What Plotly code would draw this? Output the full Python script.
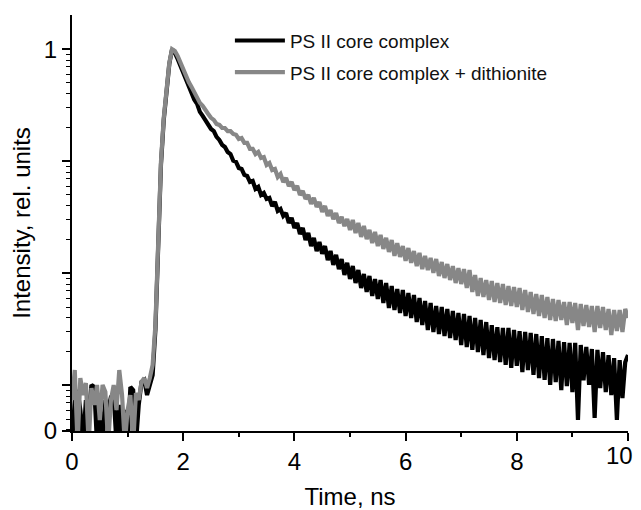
import math
import plotly.graph_objects as go

# Time channels, ns
time_ns = [
    0.00, 0.05, 0.10, 0.15, 0.20, 0.25, 0.30, 0.35, 0.40, 0.45,
    0.50, 0.55, 0.60, 0.65, 0.70, 0.75, 0.80, 0.85, 0.90, 0.95,
    1.00, 1.05, 1.10, 1.15, 1.20, 1.25, 1.30, 1.35, 1.40, 1.45,
    1.50, 1.55, 1.60, 1.65, 1.70, 1.75, 1.80, 1.85, 1.90, 1.95,
    2.00, 2.05, 2.10, 2.15, 2.20, 2.25, 2.30, 2.35, 2.40, 2.45,
    2.50, 2.55, 2.60, 2.65, 2.70, 2.75, 2.80, 2.85, 2.90, 2.95,
    3.00, 3.05, 3.10, 3.15, 3.20, 3.25, 3.30, 3.35, 3.40, 3.45,
    3.50, 3.55, 3.60, 3.65, 3.70, 3.75, 3.80, 3.85, 3.90, 3.95,
    4.00, 4.05, 4.10, 4.15, 4.20, 4.25, 4.30, 4.35, 4.40, 4.45,
    4.50, 4.55, 4.60, 4.65, 4.70, 4.75, 4.80, 4.85, 4.90, 4.95,
    5.00, 5.05, 5.10, 5.15, 5.20, 5.25, 5.30, 5.35, 5.40, 5.45,
    5.50, 5.55, 5.60, 5.65, 5.70, 5.75, 5.80, 5.85, 5.90, 5.95,
    6.00, 6.05, 6.10, 6.15, 6.20, 6.25, 6.30, 6.35, 6.40, 6.45,
    6.50, 6.55, 6.60, 6.65, 6.70, 6.75, 6.80, 6.85, 6.90, 6.95,
    7.00, 7.05, 7.10, 7.15, 7.20, 7.25, 7.30, 7.35, 7.40, 7.45,
    7.50, 7.55, 7.60, 7.65, 7.70, 7.75, 7.80, 7.85, 7.90, 7.95,
    8.00, 8.05, 8.10, 8.15, 8.20, 8.25, 8.30, 8.35, 8.40, 8.45,
    8.50, 8.55, 8.60, 8.65, 8.70, 8.75, 8.80, 8.85, 8.90, 8.95,
    9.00, 9.05, 9.10, 9.15, 9.20, 9.25, 9.30, 9.35, 9.40, 9.45,
    9.50, 9.55, 9.60, 9.65, 9.70, 9.75, 9.80, 9.85, 9.90, 9.95,
    10.00,
]

# PS II core complex (black), rel. units
ps2_core = [
    0.0003, 0.000739, 0.000908, 0.000602, 0.0003, 0.000739, 0.000543, 0.001006, 0.000966, 0.0003,
    0.000667, 0.0003, 0.000739, 0.000602, 0.000786, 0.000819, 0.0003, 0.000667, 0.0003, 0.000602,
    0.0003, 0.000966, 0.000908, 0.0003, 0.000667, 0.00107, 0.001115, 0.000819, 0.001006, 0.001235,
    0.003116, 0.01614, 0.0927, 0.2337, 0.451, 0.739, 1.0, 0.927, 0.819, 0.709,
    0.614, 0.532, 0.451, 0.407, 0.353, 0.325, 0.276, 0.254, 0.229, 0.215,
    0.194, 0.186, 0.165, 0.155, 0.140, 0.134, 0.121, 0.116, 0.101, 0.0986,
    0.0871, 0.0854, 0.0755, 0.0739, 0.0653, 0.0667, 0.0566, 0.0590, 0.0500, 0.0521,
    0.0461, 0.0470, 0.0399, 0.0433, 0.0360, 0.0375, 0.0325, 0.0345, 0.0281, 0.0312,
    0.0254, 0.0281, 0.0224, 0.0254, 0.0198, 0.0229, 0.0175, 0.0207, 0.0158, 0.0190,
    0.0149, 0.0175, 0.0131, 0.0158, 0.0119, 0.0146, 0.0109, 0.0134, 0.00965, 0.0124,
    0.00889, 0.0116, 0.00819, 0.0107, 0.00739, 0.00986, 0.00681, 0.00946, 0.00627, 0.00889,
    0.00589, 0.00871, 0.00543, 0.00819, 0.00490, 0.00770, 0.00470, 0.00724, 0.00442, 0.00709,
    0.00416, 0.00667, 0.00399, 0.00640, 0.00367, 0.00602, 0.00345, 0.00566, 0.00312, 0.00543,
    0.00299, 0.00510, 0.00287, 0.00500, 0.00275, 0.00480, 0.00264, 0.00461, 0.00254, 0.00442,
    0.00229, 0.00433, 0.00220, 0.00416, 0.00207, 0.00399, 0.00198, 0.00383, 0.00186, 0.00367,
    0.00175, 0.00345, 0.00168, 0.00331, 0.00161, 0.00325, 0.00152, 0.00325, 0.00143, 0.00312,
    0.00149, 0.00305, 0.00131, 0.00299, 0.00137, 0.00293, 0.00124, 0.00287, 0.00116, 0.00275,
    0.00112, 0.00264, 0.00101, 0.00259, 0.00107, 0.00249, 0.000908, 0.00243, 0.000986, 0.00239,
    0.000871, 0.00239, 0.00049, 0.00229, 0.00111, 0.00220, 0.00101, 0.00211, 0.000511, 0.00207,
    0.000946, 0.00198, 0.000871, 0.00186, 0.000819, 0.00175, 0.00049, 0.00168, 0.00077, 0.00161,
    0.00186,
]

# PS II core complex + dithionite (grey), rel. units
ps2_dithionite = [
    0.000739, 0.001369, 0.0003, 0.001162, 0.000819, 0.001048, 0.0003, 0.000946, 0.000667, 0.001006,
    0.00049, 0.001006, 0.000871, 0.0003, 0.000739, 0.001006, 0.000602, 0.001369, 0.000819, 0.0003,
    0.000602, 0.000819, 0.0003, 0.000854, 0.000739, 0.00107, 0.001162, 0.000946, 0.001162, 0.001517,
    0.003453, 0.01788, 0.0986, 0.2435, 0.4702, 0.7545, 1.0, 0.966, 0.871, 0.754,
    0.653, 0.578, 0.510, 0.461, 0.407, 0.375, 0.332, 0.312, 0.281, 0.264,
    0.244, 0.234, 0.215, 0.211, 0.198, 0.198, 0.186, 0.186, 0.175, 0.172,
    0.158, 0.161, 0.146, 0.146, 0.129, 0.129, 0.116, 0.121, 0.107, 0.109,
    0.0927, 0.0966, 0.0836, 0.0854, 0.0724, 0.0770, 0.0653, 0.0709, 0.0602, 0.0653,
    0.0554, 0.0602, 0.0500, 0.0543, 0.0461, 0.0500, 0.0416, 0.0470, 0.0391, 0.0433,
    0.0353, 0.0399, 0.0325, 0.0367, 0.0305, 0.0345, 0.0281, 0.0318, 0.0264, 0.0305,
    0.0244, 0.0299, 0.0229, 0.0281, 0.0211, 0.0264, 0.0202, 0.0244, 0.0186, 0.0234,
    0.0175, 0.0220, 0.0165, 0.0207, 0.0155, 0.0198, 0.0143, 0.0186, 0.0140, 0.0175,
    0.0129, 0.0168, 0.0124, 0.0158, 0.0116, 0.0152, 0.0109, 0.0143, 0.0107, 0.0137,
    0.0101, 0.0134, 0.00946, 0.0126, 0.00908, 0.0121, 0.00871, 0.0116, 0.00819, 0.0111,
    0.00802, 0.0109, 0.00739, 0.0107, 0.00681, 0.00965, 0.00627, 0.00908, 0.00614, 0.00871,
    0.00577, 0.00853, 0.00554, 0.00819, 0.00543, 0.00802, 0.00521, 0.00770, 0.00510, 0.00754,
    0.00500, 0.00739, 0.00470, 0.00709, 0.00451, 0.00681, 0.00433, 0.00653, 0.00416, 0.00640,
    0.00399, 0.00614, 0.00383, 0.00589, 0.00375, 0.00577, 0.00383, 0.00554, 0.00345, 0.00554,
    0.00360, 0.00543, 0.00312, 0.00532, 0.00338, 0.00521, 0.00331, 0.00510, 0.00299, 0.00510,
    0.00325, 0.00500, 0.00312, 0.00480, 0.00281, 0.00470, 0.00305, 0.00470, 0.00299, 0.00480,
    0.00399,
]

series_names = ["PS II core complex", "PS II core complex + dithionite"]

x_tick_vals = [0, 2, 4, 6, 8, 10]
x_tick_text = ["0", "2", "4", "6", "8", ""]
x_last_tick = 10
x_last_label = "10"
x_minor_vals = [1, 3, 5, 7, 9]

y_bottom = 0.000391
y_top = 2.02
y_tick_vals = [0.000392, 0.001, 0.01, 0.1, 1]
y_tick_text = ["0", "", "", "", "1"]
y_minor_vals = [
    0.0004, 0.0005, 0.0006, 0.0007, 0.0008, 0.0009,
    0.002, 0.003, 0.004, 0.005, 0.006, 0.007, 0.008, 0.009,
    0.02, 0.03, 0.04, 0.05, 0.06, 0.07, 0.08, 0.09,
    0.2, 0.3, 0.4, 0.5, 0.6, 0.7, 0.8, 0.9,
]

FONT = "Liberation Sans, Arial, Helvetica, sans-serif"

fig = go.Figure()
fig.add_trace(go.Scatter(
    x=time_ns, y=ps2_core, mode="lines", name=series_names[0],
    legendgroup="a",
    line=dict(color="#000000", width=4.2, shape="linear"),
))
fig.add_trace(go.Scatter(
    x=time_ns, y=ps2_dithionite, mode="lines", name=series_names[1],
    legendgroup="b",
    line=dict(color="#878787", width=4.2, shape="linear"),
))

# last x tick label, nudged left so it stays inside the page
fig.add_annotation(
    x=x_last_tick, xref="x", y=0, yref="paper",
    text=x_last_label, showarrow=False,
    xanchor="center", yanchor="top", xshift=-9, yshift=-9,
    font=dict(size=24, family=FONT, color="black"),
)

# the page body has an 8px margin, so the figure is sized to fit the window
fig.update_layout(
    width=633, height=502,
    margin=dict(l=64, r=13, t=7, b=79),
    paper_bgcolor="white", plot_bgcolor="white",
    font=dict(family=FONT, color="black", size=24),
    showlegend=True,
    legend=dict(
        x=0.284, y=0.984, xanchor="left", yanchor="top",
        bgcolor="rgba(0,0,0,0)", borderwidth=0,
        font=dict(size=19, family=FONT, color="#111111"),
        tracegroupgap=4,
        itemwidth=50,
    ),
    xaxis=dict(
        range=[0, 10], showgrid=False, zeroline=False,
        showline=True, linecolor="black", linewidth=2,
        ticks="outside", ticklen=8, tickwidth=2, tickcolor="black",
        tickmode="array", tickvals=x_tick_vals, ticktext=x_tick_text,
        tickfont=dict(size=24),
        minor=dict(tickmode="array", tickvals=x_minor_vals, ticks="outside",
                   ticklen=4, tickwidth=1.5, tickcolor="black", showgrid=False),
        title=dict(text="Time, ns", font=dict(size=24), standoff=18),
        automargin=False,
    ),
    yaxis=dict(
        type="log", range=[math.log10(y_bottom), math.log10(y_top)],
        showgrid=False, zeroline=False,
        showline=True, linecolor="black", linewidth=2,
        ticks="outside", ticklen=8, tickwidth=2, tickcolor="black",
        tickmode="array", tickvals=y_tick_vals, ticktext=y_tick_text,
        tickfont=dict(size=24), ticklabeloverflow="allow",
        minor=dict(tickmode="array", tickvals=y_minor_vals, ticks="outside",
                   ticklen=4, tickwidth=1.2, tickcolor="black", showgrid=False),
        title=dict(text="Intensity, rel. units", font=dict(size=24), standoff=6),
        automargin=False,
    ),
)

fig.write_html("out.html")
